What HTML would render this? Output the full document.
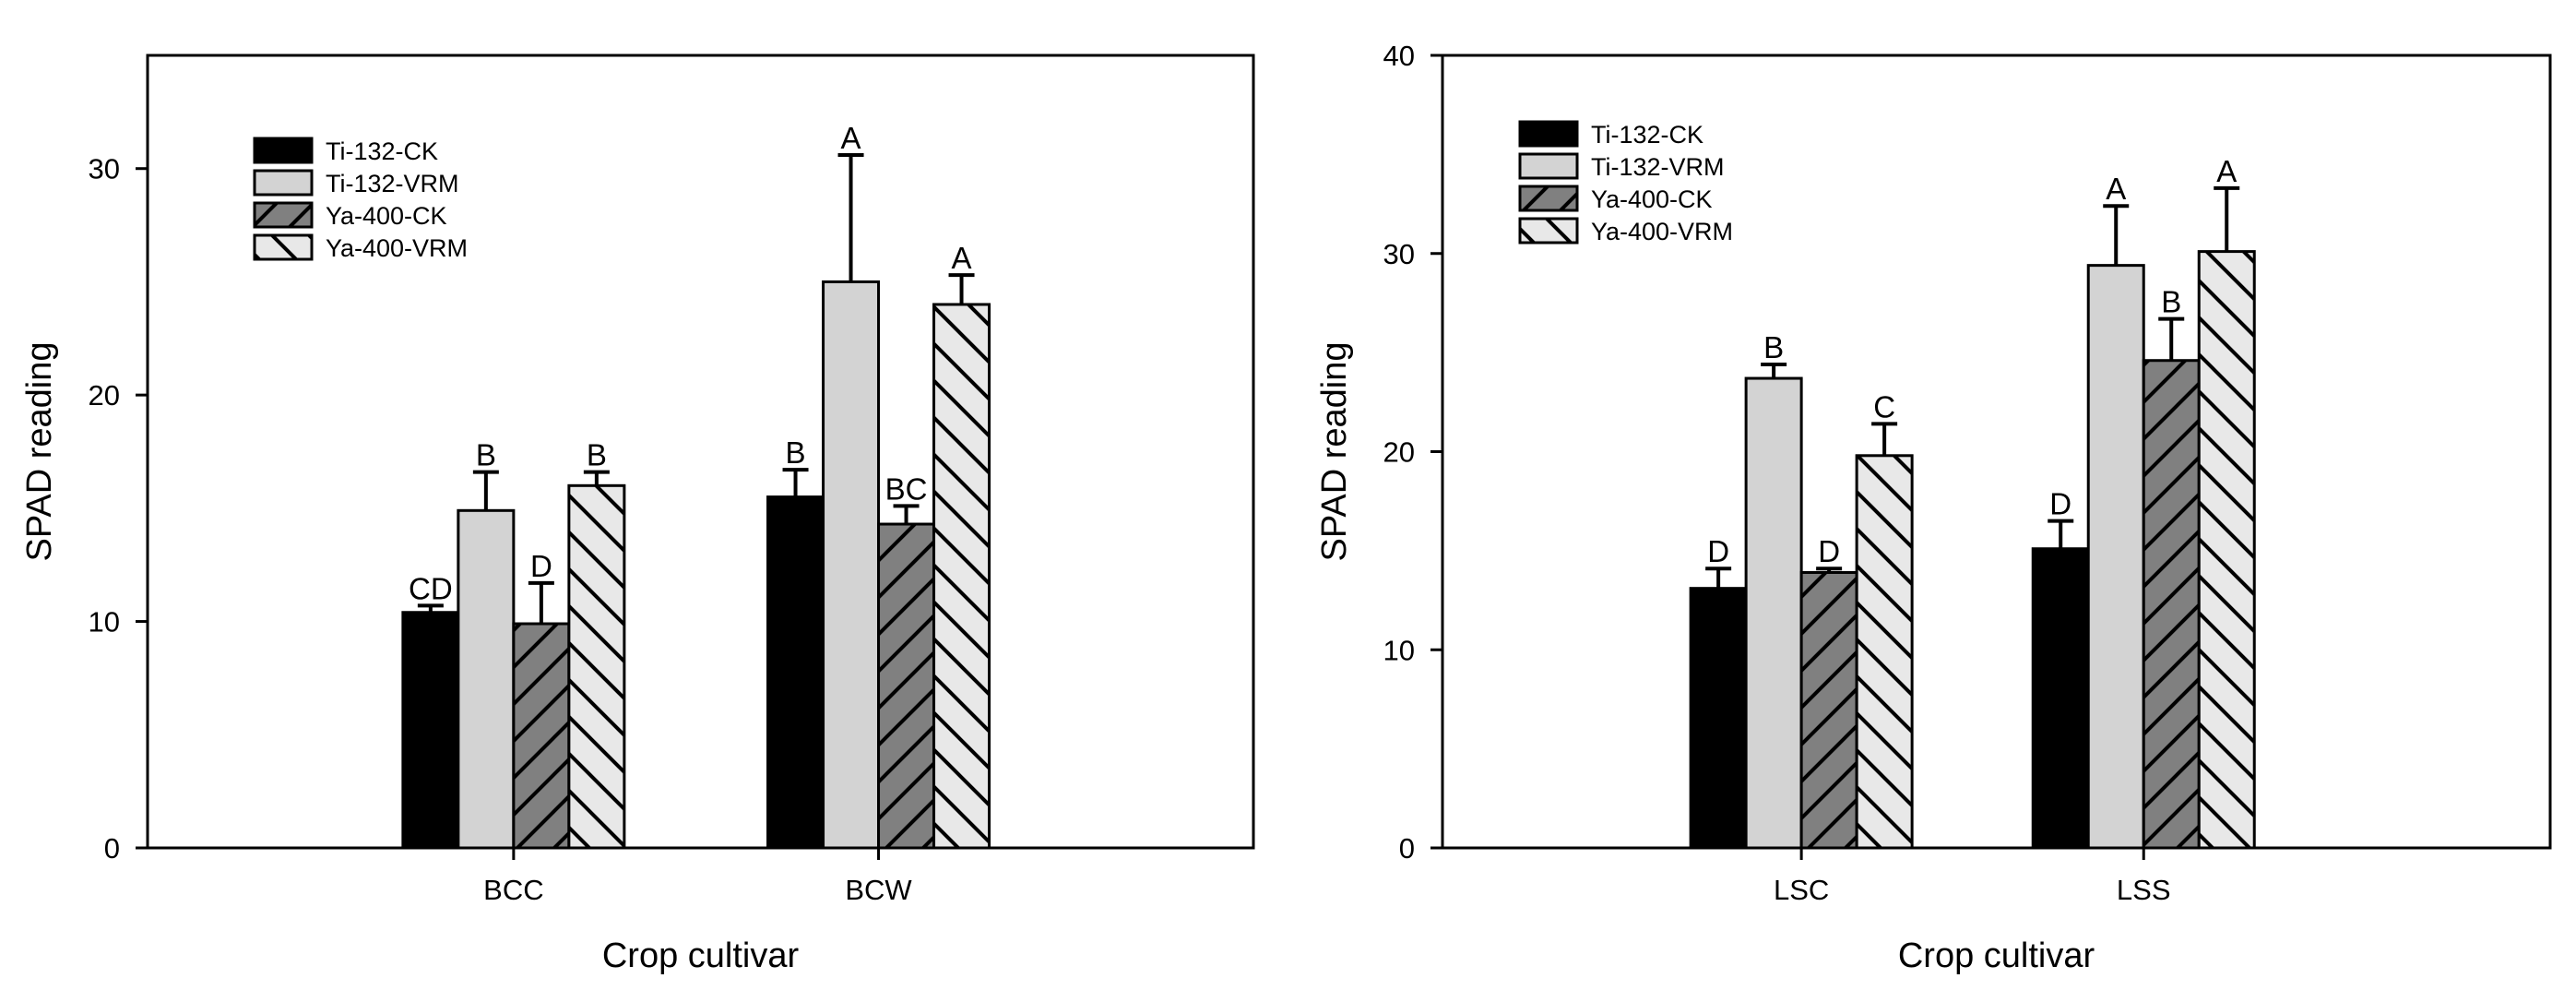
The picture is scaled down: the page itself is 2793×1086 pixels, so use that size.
<!DOCTYPE html>
<html><head><meta charset="utf-8">
<style>
html,body{margin:0;padding:0;background:#fff;}
svg{display:block;}
text{font-family:"Liberation Sans Narrow","Liberation Sans",sans-serif;fill:#000;}
</style></head>
<body>
<svg id="chart" width="2793" height="1086" viewBox="0 0 2793 1086" xmlns="http://www.w3.org/2000/svg">
<defs>
<pattern id="fwd" patternUnits="userSpaceOnUse" width="40" height="40">
<rect width="40" height="40" fill="#808080"/>
<path d="M-10,10 L10,-10 M0,40 L40,0 M30,50 L50,30" stroke="#000" stroke-width="4"/>
</pattern>
<pattern id="bwd" patternUnits="userSpaceOnUse" width="40" height="40">
<rect width="40" height="40" fill="#e8e8e8"/>
<path d="M-10,30 L10,50 M0,0 L40,40 M30,-10 L50,10" stroke="#000" stroke-width="4"/>
</pattern>
</defs>
<g id="left"></g>
<g id="right"></g>
</svg>
<script>
// Left panel data
const leftCategories = ["BCC", "BCW"];
const leftCK132 = [10.4, 15.5];
const leftVRM132 = [14.9, 25.0];
const leftCK400 = [9.9, 14.3];
const leftVRM400 = [16.0, 24.0];
const leftErrCK132 = [0.3, 1.2];
const leftErrVRM132 = [1.7, 5.6];
const leftErrCK400 = [1.8, 0.8];
const leftErrVRM400 = [0.6, 1.3];
const leftLetters = [["CD","B","D","B"],["B","A","BC","A"]];
const leftTicks = [0, 10, 20, 30];
// Right panel data
const rightCategories = ["LSC", "LSS"];
const rightCK132 = [13.1, 15.1];
const rightVRM132 = [23.7, 29.4];
const rightCK400 = [13.9, 24.6];
const rightVRM400 = [19.8, 30.1];
const rightErrCK132 = [1.0, 1.4];
const rightErrVRM132 = [0.7, 3.0];
const rightErrCK400 = [0.2, 2.1];
const rightErrVRM400 = [1.6, 3.2];
const rightLetters = [["D","B","D","C"],["D","A","B","A"]];
const rightTicks = [0, 10, 20, 30, 40];
const seriesNames = ["Ti-132-CK", "Ti-132-VRM", "Ya-400-CK", "Ya-400-VRM"];

const NS = "http://www.w3.org/2000/svg";
function mk(parent, tag, attrs, txt){
  const e = document.createElementNS(NS, tag);
  for (const k in attrs) e.setAttribute(k, attrs[k]);
  if (txt !== undefined) e.textContent = txt;
  parent.appendChild(e);
  return e;
}
const fills = ["#000", "#d3d3d3", "url(#fwd)", "url(#bwd)"];

function panel(g, cfg){
  const {L,R,T,B,ymax,catFrac,cats,series,errs,letters,ticks,legX,legY} = cfg;
  const y = v => B - (v / ymax) * (B - T);
  const xc = i => L + (R - L) * catFrac[i];
  const bw = 60;
  const frame = mk(g, "rect", {x:L, y:T, width:R-L, height:B-T, fill:"none", stroke:"#000", "stroke-width":3});
  
  
  ticks.forEach(t => {
    const tk = mk(g, "line", {x1:L-13, x2:L, y1:y(t), y2:y(t), stroke:"#000", "stroke-width":3});
    
    
    const tl = mk(g, "text", {x:L-30, y:y(t)+11, "text-anchor":"end", "font-size":31}, String(t));
    
    
  });
  cats.forEach((c, i) => {
    const cx = xc(i);
    const tk = mk(g, "line", {x1:cx, x2:cx, y1:B, y2:B+13, stroke:"#000", "stroke-width":3});
    
    
    const cl = mk(g, "text", {x:cx, y:B+56, "text-anchor":"middle", "font-size":31}, c);
    
    
    series.forEach((s, j) => {
      const v = s[i], e = errs[j][i];
      const x0 = cx - 2*bw + j*bw;
      const bar = mk(g, "rect", {x:x0, y:y(v), width:bw, height:B-y(v), fill:fills[j], stroke:"#000", "stroke-width":3});
      
      
      const bx = x0 + bw/2, yt = y(v + e);
      const el = mk(g, "path", {d:`M${bx},${y(v)} L${bx},${yt} M${bx-14},${yt} L${bx+14},${yt}`, stroke:"#000", "stroke-width":4, fill:"none"});
      
      
      const lt = mk(g, "text", {x:bx, y:yt-7, "text-anchor":"middle", "font-size":33}, letters[i][j]);
      
      
    });
  });
  seriesNames.forEach((n, j) => {
    const yy = legY + j*35;
    const box = mk(g, "rect", {x:legX, y:yy, width:62, height:26, fill:fills[j], stroke:"#000", "stroke-width":3});
    
    
    const tx = mk(g, "text", {x:legX+77, y:yy+23, "font-size":27}, n);
    
    
  });
  const yt = mk(g, "text", {x:0, y:0, transform:`translate(${L-105},${(T+B)/2}) rotate(-90)`, "text-anchor":"middle", "font-size":38}, "SPAD reading");
  
  
  const xt = mk(g, "text", {x:(L+R)/2, y:1048, "text-anchor":"middle", "font-size":38}, "Crop cultivar");
  
  
}

panel(document.getElementById("left"), {
  L:160, R:1359, T:60, B:919, ymax:35, catFrac:[0.331, 0.661],
  cats:leftCategories, series:[leftCK132,leftVRM132,leftCK400,leftVRM400],
  errs:[leftErrCK132,leftErrVRM132,leftErrCK400,leftErrVRM400],
  letters:leftLetters, ticks:leftTicks, legX:276, legY:150
});
panel(document.getElementById("right"), {
  L:1564, R:2765, T:60, B:919, ymax:40, catFrac:[0.324, 0.633],
  cats:rightCategories, series:[rightCK132,rightVRM132,rightCK400,rightVRM400],
  errs:[rightErrCK132,rightErrVRM132,rightErrCK400,rightErrVRM400],
  letters:rightLetters, ticks:rightTicks, legX:1648, legY:132
});
</script>
</body></html>
